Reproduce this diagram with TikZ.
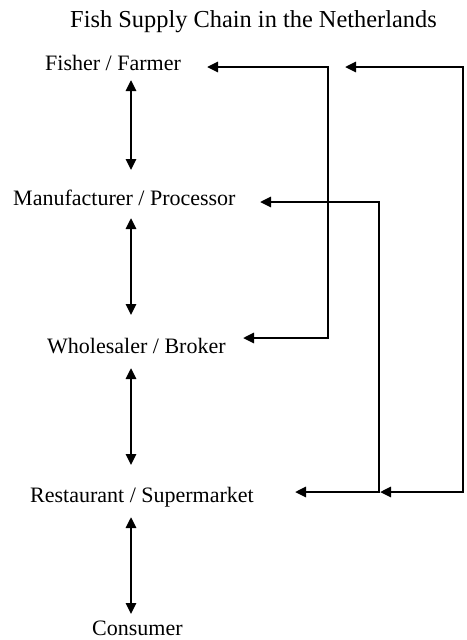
\documentclass[tikz,border=0pt]{standalone}
\usepackage{fontspec}
\setmainfont{Liberation Serif}
\usetikzlibrary{arrows.meta}
\begin{document}
\begin{tikzpicture}[x=1pt,y=-1pt,
  lbl/.style={anchor=base west,inner sep=0pt,font=\fontsize{22}{26}\selectfont},
  ttl/.style={anchor=base west,inner sep=0pt,font=\fontsize{24.4}{29}\selectfont},
  link/.style={line width=2.6pt,{Triangle[length=11pt,width=10pt]}-{Triangle[length=11pt,width=10pt]}},
  flow/.style={line width=2.6pt,line join=miter,{Triangle[length=11pt,width=10pt]}-{Triangle[length=11pt,width=10pt]}}]
\useasboundingbox (0,0) rectangle (466,640);
\node[ttl] (title) at (70,27) {Fish Supply Chain in the Netherlands};
\node[lbl] (fisher) at (45,70) {Fisher / Farmer};
\node[lbl] (manu) at (13,205) {Manufacturer / Processor};
\node[lbl] (whole) at (47,353) {Wholesaler / Broker};
\node[lbl] (rest) at (30,502) {Restaurant / Supermarket};
\node[lbl] (cons) at (92,635) {Consumer};
% vertical links
\coordinate (v1a) at (131,80);  \coordinate (v1b) at (131,170);
\coordinate (v2a) at (131,218); \coordinate (v2b) at (131,315);
\coordinate (v3a) at (131,368); \coordinate (v3b) at (131,465);
\coordinate (v4a) at (131,517); \coordinate (v4b) at (131,614);
\draw[link] (v1a) -- (v1b);
\draw[link] (v2a) -- (v2b);
\draw[link] (v3a) -- (v3b);
\draw[link] (v4a) -- (v4b);
% connector A: fisher <-> wholesaler
\coordinate (aF) at (207,67);
\coordinate (aW) at (243,338);
\draw[flow] (aF) -- (328,67) -- (328,338) -- (aW);
% connector B: fisher <-> restaurant
\coordinate (bF) at (345,67);
\coordinate (bR) at (380,492);
\draw[flow] (bF) -- (463,67) -- (463,492) -- (bR);
% connector C: manufacturer <-> restaurant
\coordinate (cM) at (260,202);
\coordinate (cR) at (295,492);
\draw[flow] (cM) -- (379,202) -- (379,492) -- (cR);
\end{tikzpicture}
\end{document}
